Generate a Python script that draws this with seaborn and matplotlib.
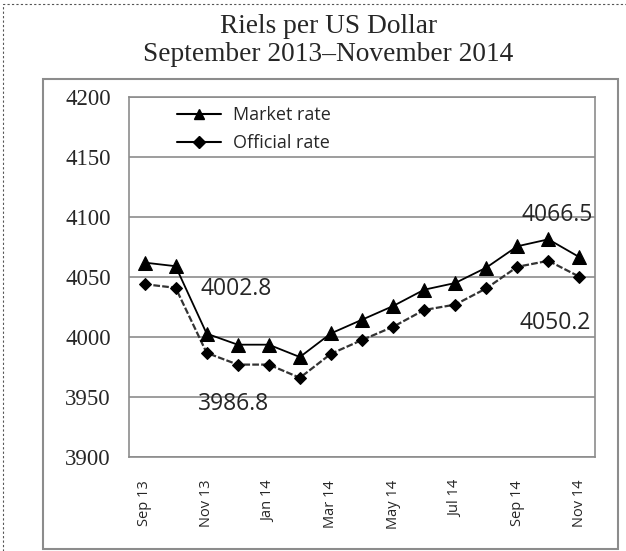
import numpy as np
import pandas as pd
import matplotlib
matplotlib.use("Agg")
import matplotlib.pyplot as plt
import seaborn as sns
from matplotlib.patches import Rectangle
from matplotlib.lines import Line2D

sns.set_theme(style="white")

months = ["Sep 13", "Oct 13", "Nov 13", "Dec 13", "Jan 14", "Feb 14", "Mar 14", "Apr 14",
          "May 14", "Jun 14", "Jul 14", "Aug 14", "Sep 14", "Oct 14", "Nov 14"]
market_rate = [4062, 4059, 4002.8, 3993.6, 3993.6, 3983.3, 4003, 4014.4,
               4025.8, 4039.4, 4045, 4057.8, 4075.6, 4081.4, 4066.5]
official_rate = [4044, 4041, 3986.8, 3977, 3977, 3966, 3986, 3997.5,
                 4008.5, 4022.5, 4027, 4040.5, 4058.5, 4063.5, 4050.2]
yticks = [3900, 3950, 4000, 4050, 4100, 4150, 4200]

df = pd.DataFrame({"pos": np.arange(len(months)), "month": months,
                   "Market rate": market_rate, "Official rate": official_rate})

fig = plt.figure(figsize=(6.26, 5.51), dpi=100)
ax = fig.add_axes([129 / 626, 1 - 457 / 551, 466 / 626, 360 / 551])

sns.lineplot(data=df, x="pos", y="Official rate", ax=ax, color="#333333", linewidth=1.6,
             linestyle=(0, (3, 1)), marker="D", markersize=6, markerfacecolor="black",
             markeredgecolor="black", zorder=3)
sns.lineplot(data=df, x="pos", y="Market rate", ax=ax, color="black", linewidth=1.3,
             marker="^", markersize=10, markerfacecolor="black", markeredgecolor="black",
             zorder=4)

ax.set_xlim(-0.5, len(months) - 0.5)
ax.set_ylim(3900, 4200)
ax.set_yticks(yticks)
ax.set_yticklabels([str(v) for v in yticks])
ax.yaxis.grid(True, color="#8c8c8c", linewidth=1.2)
ax.set_axisbelow(True)

# month labels on every second month, tick marks between months
ax.set_xticks(df["pos"][::2])
ax.set_xticklabels(df["month"][::2], rotation=90)
ax.set_xticks(np.arange(-0.5, len(months) - 1, 2), minor=True)
ax.tick_params(axis="x", which="major", length=0, pad=16.5)
ax.tick_params(axis="x", which="minor", length=4.5, width=1.2, color="#8c8c8c", direction="out")
ax.tick_params(axis="y", length=4.5, width=1.2, color="#8c8c8c", direction="out", pad=8.5)
plt.setp(ax.get_yticklabels(), fontfamily="Liberation Serif", fontsize=16.5)
plt.setp(ax.get_xticklabels(), fontfamily="Open Sans", fontsize=10.5)
ax.set_xlabel("")
ax.set_ylabel("")
for side in ["left", "bottom", "top", "right"]:
    ax.spines[side].set_color("#8c8c8c")
    ax.spines[side].set_linewidth(1.2)

legend_handles = [
    Line2D([], [], color="black", linewidth=1.5, marker="^", markersize=7),
    Line2D([], [], color="black", linewidth=1.5, marker="D", markersize=6),
]
ax.legend(legend_handles, ["Market rate", "Official rate"], loc="upper left",
          bbox_to_anchor=(0.075, 1.01), frameon=False, prop={"family": "Open Sans", "size": 13},
          handlelength=2.45, handletextpad=0.65, labelspacing=0.55, borderaxespad=0.3)

ann_font = {"family": "Open Sans", "size": 16.5}
ax.text(2.94, 4039.8, "4002.8", ha="center", va="center", **ann_font)
ax.text(2.85, 3944, "3986.8", ha="center", va="center", **ann_font)
ax.text(14.43, 4102, "4066.5", ha="right", va="center", **ann_font)
ax.text(14.36, 4012, "4050.2", ha="right", va="center", **ann_font)

fig.text(328.5 / 626, 1 - 14 / 551, "Riels per US Dollar\nSeptember 2013\u2013November 2014",
         ha="center", va="top", fontfamily="Liberation Serif", fontsize=19.7, linespacing=1.18)

# inner chart box and outer dashed border
fig.patches.append(Rectangle((43 / 626, 2 / 551), 575 / 626, 470 / 551, transform=fig.transFigure,
                             fill=False, edgecolor="#8c8c8c", linewidth=1.5))
fig.patches.append(Rectangle((3 / 626, -0.02), 1.1, 1 - 4 / 551 + 0.02, transform=fig.transFigure,
                             fill=False, edgecolor="#555555", linewidth=0.8, linestyle=(0, (2, 2))))

fig.savefig("out.png", dpi=100)
